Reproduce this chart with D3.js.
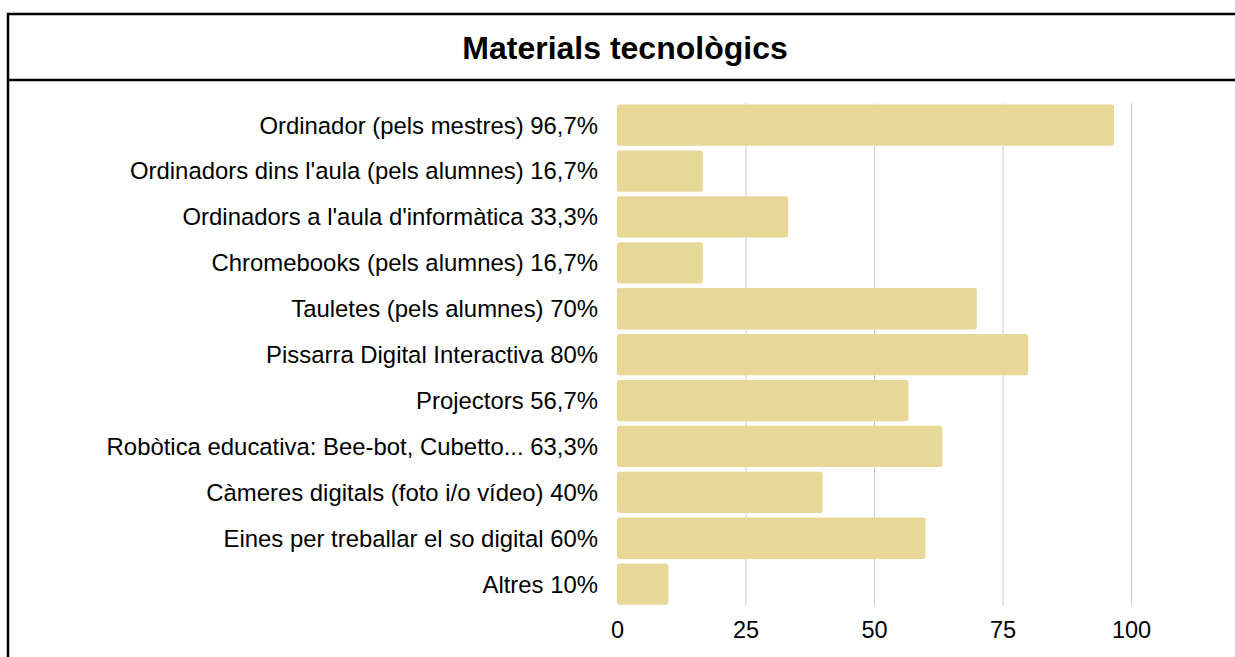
<!DOCTYPE html>
<html><head><meta charset="utf-8">
<script src="https://cdn.jsdelivr.net/npm/d3@7"></script>
<style>html,body{margin:0;padding:0;background:#fff;overflow:hidden}</style>
</head><body>
<svg id="c" width="1235" height="657"></svg>
<script>
const categories = [
  "Ordinador (pels mestres) 96,7%",
  "Ordinadors dins l'aula (pels alumnes) 16,7%",
  "Ordinadors a l'aula d'informàtica 33,3%",
  "Chromebooks (pels alumnes) 16,7%",
  "Tauletes (pels alumnes) 70%",
  "Pissarra Digital Interactiva 80%",
  "Projectors 56,7%",
  "Robòtica educativa: Bee-bot, Cubetto... 63,3%",
  "Càmeres digitals (foto i/o vídeo) 40%",
  "Eines per treballar el so digital 60%",
  "Altres 10%"
];
const values = [96.7, 16.7, 33.3, 16.7, 70, 80, 56.7, 63.3, 40, 60, 10];
const ticks = [0, 25, 50, 75, 100];
const title = "Materials tecnològics";

const svg = d3.select("#c");
const font = "'Liberation Sans', Arial, sans-serif";

// frame
svg.append("rect").attr("x", 8).attr("y", 14).attr("width", 1300).attr("height", 700)
  .attr("fill", "none").attr("stroke", "#000").attr("stroke-width", 2.5);
svg.append("line").attr("x1", 8).attr("x2", 1300).attr("y1", 80).attr("y2", 80)
  .attr("stroke", "#000").attr("stroke-width", 2.5);
svg.append("text").attr("x", 625).attr("y", 59).attr("text-anchor", "middle")
  .attr("font-family", font).attr("font-weight", "bold").attr("font-size", 32)
  .attr("fill", "#000").text(title);

const x = d3.scaleLinear().domain([0, 100]).range([617, 1131]);
const y = d3.scaleBand().domain(categories).range([102.2, 607.1]).paddingInner(0.1).paddingOuter(0.05);

// gridlines
svg.append("g").selectAll("line").data(ticks.slice(1)).join("line")
  .attr("x1", d => x(d) + 0.5).attr("x2", d => x(d) + 0.5)
  .attr("y1", 103).attr("y2", 606)
  .attr("stroke", "#cccccc").attr("stroke-width", 1);

// bars
svg.append("g").selectAll("rect").data(values).join("rect")
  .attr("x", x(0))
  .attr("y", (d, i) => y(categories[i]))
  .attr("width", d => x(d) - x(0))
  .attr("height", y.bandwidth())
  .attr("rx", 2.5)
  .attr("fill", "#e8d898");

// category labels
const yAxis = d3.axisLeft(y).tickSize(0).tickPadding(0);
const gy = svg.append("g").attr("transform", "translate(598,0)").call(yAxis);
gy.select(".domain").remove();
gy.selectAll("text").attr("font-family", font).attr("font-size", 23.9).attr("fill", "#000").attr("dy", "0.35em");

// x axis
const xAxis = d3.axisBottom(x).tickValues(ticks).tickSize(0).tickPadding(0).tickFormat(d3.format("d"));
const gx = svg.append("g").attr("transform", "translate(0,621)").call(xAxis);
gx.select(".domain").remove();
gx.selectAll("text").attr("font-family", font).attr("font-size", 23.5).attr("fill", "#000").attr("dy", "0.71em");
</script>
</body></html>
